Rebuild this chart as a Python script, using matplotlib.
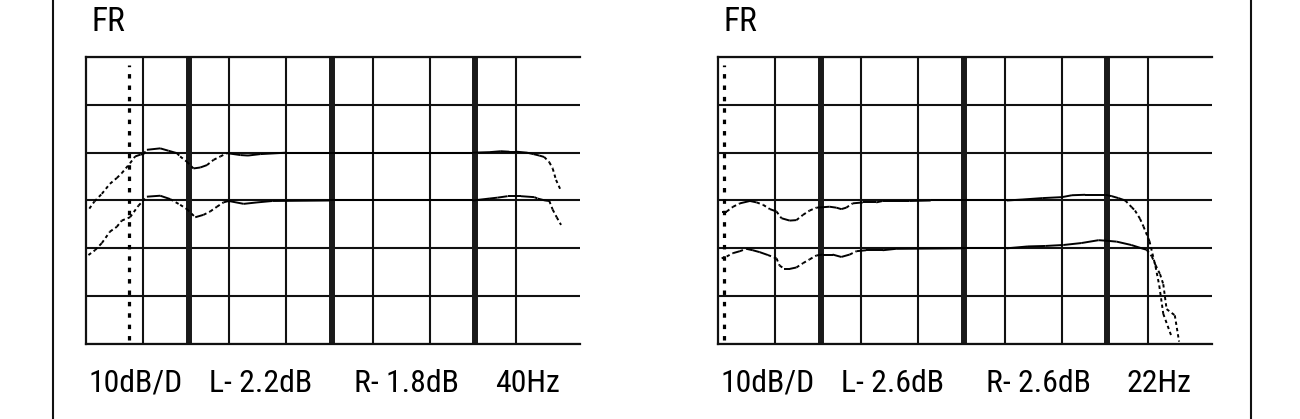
import numpy as np
import matplotlib
matplotlib.use("Agg")
import matplotlib.pyplot as plt
from matplotlib.collections import LineCollection
from matplotlib.lines import Line2D

plt.rcParams['lines.scale_dashes'] = False

# ---------------- data ----------------
# Left panel: upper trace (L) and lower trace (R), dB on the 10 dB/div screen
freq_a_L = [21.1, 22.9, 25.8, 29.4, 32.8, 35.5, 40.6, 44.0, 48.0, 50.3, 53.2, 65.9,
            75.3, 86.1, 90.8, 101.2, 112.5, 125.4, 139.6, 155.3, 173, 192.7, 239,
            270, 329, 500, 1000, 2000, 5000, 10000, 13000, 15700, 18000, 20200,
            23900, 26500, 29100, 31500, 34200, 36100, 38100, 41300]
db_a_L = [-11.7, -10.2, -8.6, -6.5, -5.3, -4.3, -2.2, -0.8, -0.4, -0.3, 0.6, 0.9,
          0.4, -0.1, -0.8, -1.9, -3.3, -3.1, -2.6, -1.5, -0.8, -0.1, -0.5,
          -0.6, -0.3, 0.0, 0.0, 0.0, 0.0, 0.0, 0.1, 0.3, 0.2, 0.2,
          0.0, -0.3, -0.6, -0.9, -2.0, -3.3, -5.7, -8.0]

freq_a_R = [20.8, 23.1, 25.8, 29.4, 32.8, 35.5, 40.6, 46.4, 53.2, 65.9, 77.3, 90.8,
            101.2, 115.7, 132, 147, 164, 182, 198, 252, 312, 400, 1000, 2000,
            5000, 10000, 13000, 14900, 17500, 21700, 26900, 28400, 32000, 34200,
            36100, 38500, 41300]
db_a_R = [-21.4, -20.4, -18.9, -16.5, -15.5, -14.2, -13.5, -11.1, -9.2, -9.0, -9.7, -10.9,
          -11.8, -13.5, -13.0, -12.3, -11.3, -10.4, -10.1, -10.7, -10.4, -10.1, -10.0, -10.0,
          -10.0, -10.0, -9.6, -9.4, -9.1, -9.1, -9.3, -9.6, -10.0, -10.1,
          -11.9, -13.5, -15.1]

# Right panel: upper trace (L) and lower trace (R)
freq_b_L = [21.2, 23.0, 25.5, 28.4, 33.4, 37.2, 41.3, 46.0, 51.2, 55.4, 63.3, 70.5,
            78.4, 87.2, 97.1, 120, 134, 145, 157, 174, 205, 254, 282, 432, 610,
            1000, 2070, 2650, 3660, 5020, 5900, 7300, 10070, 11200, 12450, 13900,
            15400, 16250, 17600, 18600, 20500, 22600, 24000, 25600, 29200]
db_b_L = [-12.3, -12.3, -11.3, -10.6, -10.1, -10.4, -10.9, -11.8, -12.3, -13.7, -14.2, -14.1,
          -13.0, -12.1, -11.5, -11.3, -11.5, -11.8, -11.5, -10.6, -10.4, -10.4, -10.1, -10.1, -10.0,
          -10.0, -10.0, -9.8, -9.5, -9.3, -8.9, -8.8, -8.8, -9.1, -9.5, -10.0,
          -11.4, -12.1, -13.8, -15.4, -18.5, -23.8, -27.8, -33.7, -38.4]

freq_b_R = [21.2, 23.0, 25.5, 28.4, 31.5, 35.0, 39.1, 44.6, 51.2, 53.8, 58.2, 63.3,
            70.5, 78.4, 87.2, 97.1, 107.5, 126, 145, 166, 185, 216, 282, 350,
            1000, 2070, 2910, 3870, 5150, 6850, 9040, 10200, 12100, 15300, 18100,
            19600, 21300, 22600, 24300, 25600, 27000, 30800, 33000]
db_b_R = [-22.1, -21.7, -21.0, -20.6, -20.1, -20.4, -20.8, -21.4, -22.1, -23.6, -24.3, -24.3,
          -24.0, -23.1, -22.3, -21.5, -21.3, -21.3, -21.8, -21.3, -20.6, -20.4, -20.4, -20.1,
          -20.0, -20.0, -19.6, -19.5, -19.3, -18.9, -18.3, -18.4, -18.6, -19.3, -20.0,
          -20.3, -21.7, -23.5, -25.4, -27.5, -32.7, -34.0, -39.5]

thin_grid_hz = [50, 200, 500, 2000, 5000, 20000]
thick_grid_hz = [100, 1000, 10000]
db_grid = [20, 10, 0, -10, -20, -30, -40]

marker_hz_a = 40
marker_hz_b = 22

title_text = "FR"
footer_a = ["10dB/D", "L- 2.2dB", "R- 1.8dB", "40Hz"]
footer_b = ["10dB/D", "L- 2.6dB", "R- 2.6dB", "22Hz"]

# ---------------- figure ----------------
W, H = 1300, 419
fig = plt.figure(figsize=(W / 100, H / 100), dpi=100)
fig.patch.set_facecolor('white')

FONT = ['Roboto Condensed', 'DejaVu Sans']
INK = '#111111'
renderer = fig.canvas.get_renderer()


def px_to_fig(x, y):
    return x / W, 1 - y / H


def fitted_size(text, target_w, base=20):
    t = fig.text(0, 0, text, fontsize=base, family=FONT)
    w = t.get_window_extent(renderer).width
    t.remove()
    return base * target_w / w


FOOT_SIZE = fitted_size(footer_a[0], 82) * 1.15
TITLE_SIZE = FOOT_SIZE * 1.05


def setup(ax, marker_hz):
    ax.set_xscale('log')
    ax.set_xlim(20, 56000)
    ax.set_ylim(-40, 20)
    ax.set_xticks([])
    ax.set_xticks([], minor=True)
    ax.set_yticks([])
    ax.set_yticks([], minor=True)
    for y in db_grid:
        ax.axhline(y, color=INK, lw=1.5, zorder=1)
    for f in thin_grid_hz:
        ax.axvline(f, color=INK, lw=1.5, zorder=1)
    for f in thick_grid_hz:
        ax.axvline(f * 1.04, color='#1a1a1a', lw=4.3, zorder=1)
    ax.axvline(marker_hz, ymin=0.014, ymax=0.972, color='black', lw=2.3,
               linestyle=(0, (3.2, 5.0)), zorder=2)
    for side in ['left', 'top', 'bottom']:
        ax.spines[side].set_linewidth(1.6)
        ax.spines[side].set_color(INK)
    ax.spines['right'].set_visible(False)
    ax.patch.set_alpha(0)


def draw_curve(ax, f, d):
    f = np.asarray(f, float)
    d = np.asarray(d, float)
    pts = np.column_stack([f, d])
    segs = np.stack([pts[:-1], pts[1:]], axis=1)
    slope = np.abs(np.diff(d)) / np.diff(np.log10(f))
    styles = ['solid' if s < 11 else (0, (2.4, 2.2)) for s in slope]
    lc = LineCollection(segs, colors='black', linewidths=1.4, linestyles=styles, zorder=3)
    ax.add_collection(lc)


panels = [
    (86, freq_a_L, db_a_L, freq_a_R, db_a_R, marker_hz_a, footer_a),
    (718, freq_b_L, db_b_L, freq_b_R, db_b_R, marker_hz_b, footer_b),
]

top_px, bot_px, width_px = 57, 344, 494
for left_px, fL, dL, fR, dR, mk, footer in panels:
    ax = fig.add_axes([left_px / W, 1 - bot_px / H, width_px / W, (bot_px - top_px) / H])
    setup(ax, mk)
    draw_curve(ax, fL, dL)
    draw_curve(ax, fR, dR)

    # title
    tx, ty = px_to_fig(left_px + 22, 22)
    fig.text(tx, ty, title_text, ha='center', va='center', fontsize=TITLE_SIZE,
             family=FONT, color='black')
    # footer groups
    centers = [50, 175, 320, 441]
    for c, s in zip(centers, footer):
        fx, fy = px_to_fig(left_px + c, 383)
        fig.text(fx, fy, s, ha='center', va='center', fontsize=FOOT_SIZE,
                 family=FONT, color='black')

# outer frame lines
for xp in (53, 1251):
    fig.add_artist(Line2D([xp / W, xp / W], [0, 1], transform=fig.transFigure,
                          color=INK, lw=1.5))

fig.savefig('out.png', dpi=100, facecolor='white')
